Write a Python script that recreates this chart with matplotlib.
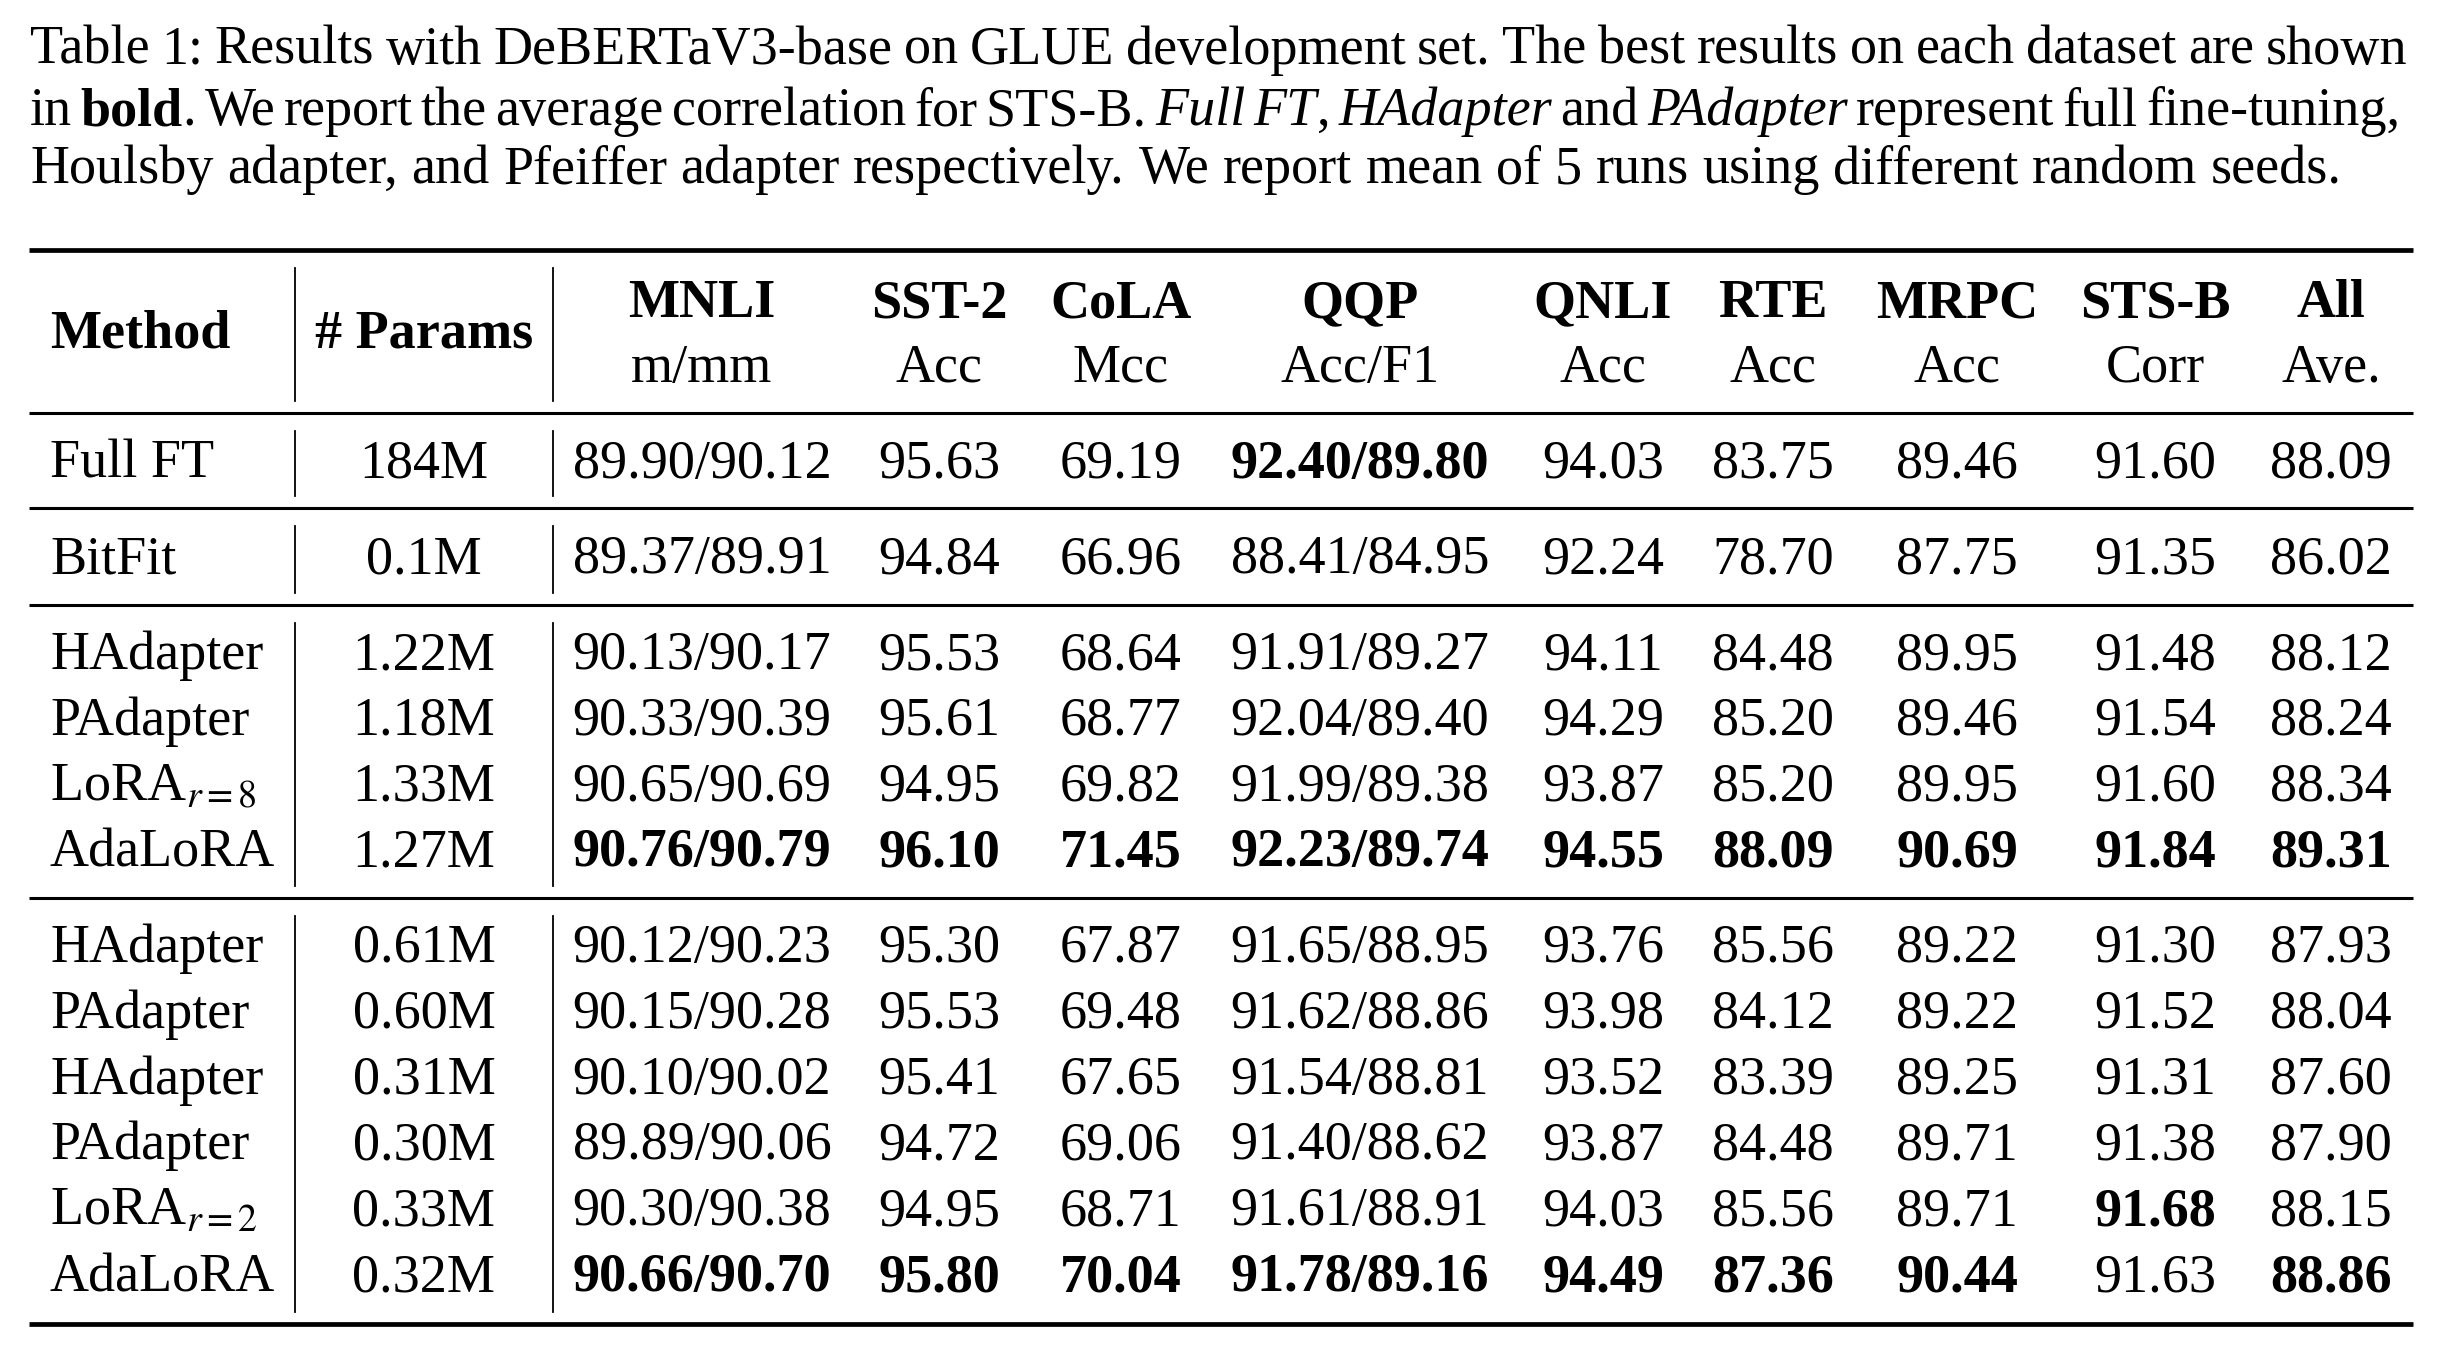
import matplotlib.pyplot as plt

plt.rcParams['font.family'] = 'Liberation Serif'
plt.rcParams['mathtext.fontset'] = 'stix'

# table content
datasets = ['MNLI', 'SST-2', 'CoLA', 'QQP', 'QNLI', 'RTE', 'MRPC', 'STS-B', 'All']
metrics = ['m/mm', 'Acc', 'Mcc', 'Acc/F1', 'Acc', 'Acc', 'Acc', 'Corr', 'Ave.']

methods = ['Full FT', 'BitFit',
           'HAdapter', 'PAdapter', 'LoRA$_{r=8}$', 'AdaLoRA',
           'HAdapter', 'PAdapter', 'HAdapter', 'PAdapter', 'LoRA$_{r=2}$', 'AdaLoRA']
params = ['184M', '0.1M', '1.22M', '1.18M', '1.33M', '1.27M',
          '0.61M', '0.60M', '0.31M', '0.30M', '0.33M', '0.32M']

scores = [
    ['89.90/90.12', '95.63', '69.19', '92.40/89.80', '94.03', '83.75', '89.46', '91.60', '88.09'],
    ['89.37/89.91', '94.84', '66.96', '88.41/84.95', '92.24', '78.70', '87.75', '91.35', '86.02'],
    ['90.13/90.17', '95.53', '68.64', '91.91/89.27', '94.11', '84.48', '89.95', '91.48', '88.12'],
    ['90.33/90.39', '95.61', '68.77', '92.04/89.40', '94.29', '85.20', '89.46', '91.54', '88.24'],
    ['90.65/90.69', '94.95', '69.82', '91.99/89.38', '93.87', '85.20', '89.95', '91.60', '88.34'],
    ['90.76/90.79', '96.10', '71.45', '92.23/89.74', '94.55', '88.09', '90.69', '91.84', '89.31'],
    ['90.12/90.23', '95.30', '67.87', '91.65/88.95', '93.76', '85.56', '89.22', '91.30', '87.93'],
    ['90.15/90.28', '95.53', '69.48', '91.62/88.86', '93.98', '84.12', '89.22', '91.52', '88.04'],
    ['90.10/90.02', '95.41', '67.65', '91.54/88.81', '93.52', '83.39', '89.25', '91.31', '87.60'],
    ['89.89/90.06', '94.72', '69.06', '91.40/88.62', '93.87', '84.48', '89.71', '91.38', '87.90'],
    ['90.30/90.38', '94.95', '68.71', '91.61/88.91', '94.03', '85.56', '89.71', '91.68', '88.15'],
    ['90.66/90.70', '95.80', '70.04', '91.78/89.16', '94.49', '87.36', '90.44', '91.63', '88.86'],
]

bold_cells = {(0, 3)}
bold_cells |= {(5, c) for c in range(9)}
bold_cells |= {(11, c) for c in [0, 1, 2, 3, 4, 5, 6, 8]}
bold_cells |= {(10, 7)}

groups = [[0], [1], [2, 3, 4, 5], [6, 7, 8, 9, 10, 11]]

caption = [
    [('Table 1: Results with DeBERTaV3-base on GLUE development set. The best results on each dataset are shown', 'r')],
    [('in ', 'r'), ('bold', 'b'), ('. We report the average correlation for STS-B. ', 'r'), ('Full FT', 'i'),
     (', ', 'r'), ('HAdapter', 'i'), (' and ', 'r'), ('PAdapter', 'i'), (' represent full fine-tuning,', 'r')],
    [('Houlsby adapter, and Pfeiffer adapter respectively. We report mean of 5 runs using different random seeds.', 'r')],
]

# layout (pixels)
W, H = 2454, 1348
fig = plt.figure(figsize=(W / 100, H / 100), dpi=100)
ax = fig.add_axes([0, 0, 1, 1])
ax.set_xlim(0, W)
ax.set_ylim(H, 0)
ax.axis('off')
renderer = fig.canvas.get_renderer()

fs = 39
cap_fs = 39
x_left, x_right = 29, 2413
x_method = 50
x_params = 424
col_x = [702, 939, 1121, 1360, 1603, 1773, 1957, 2155, 2331]
vlines_x = [295, 553]
rules = [250, 413, 508, 605, 898, 1324]
thick = [True, False, False, False, False, True]
block_first = [478, 573, 669, 962]
pitch = 65.8

styles = {'r': dict(), 'b': dict(fontweight='bold'), 'i': dict(fontstyle='italic')}


def words_of(segs):
    words = [[]]
    for text, st in segs:
        parts = text.split(' ')
        for i, p in enumerate(parts):
            if i > 0:
                words.append([])
            if p:
                words[-1].append((p, st))
    return [w for w in words if w]


def draw_line(segs, y, x0, x1=None, size=cap_fs):
    words = words_of(segs)
    arts = []
    widths = []
    for w in words:
        pieces = []
        tot = 0
        for txt, st in w:
            t = ax.text(0, y, txt, fontsize=size, va='baseline', ha='left', **styles[st])
            bw = t.get_window_extent(renderer).width
            pieces.append((t, bw))
            tot += bw
        arts.append(pieces)
        widths.append(tot)
    if x1 is None:
        gap = size * 100 / 72 * 0.25
    else:
        gap = (x1 - x0 - sum(widths)) / (len(words) - 1)
    x = x0
    for pieces, wd in zip(arts, widths):
        xx = x
        for t, bw in pieces:
            t.set_x(xx)
            xx += bw
        x += wd + gap


cap_base = [64, 125, 183]
draw_line(caption[0], cap_base[0], 30, 2407)
draw_line(caption[1], cap_base[1], 30, 2400)
draw_line(caption[2], cap_base[2], 30)

# horizontal rules
for y, tk in zip(rules, thick):
    ax.plot([x_left, x_right], [y, y], color='black', lw=3.4 if tk else 2.2,
            solid_capstyle='butt')

# vertical separators per block
for top, bot in zip(rules[:-1], rules[1:]):
    for vx in vlines_x:
        ax.plot([vx, vx], [top + 18, bot - 12], color='black', lw=1.3)

# header
ax.text(x_method, 348, 'Method', fontsize=fs, fontweight='bold', va='baseline', ha='left')
ax.text(x_params, 348, '# Params', fontsize=fs, fontweight='bold', va='baseline', ha='center')
for cx, d, m in zip(col_x, datasets, metrics):
    ax.text(cx, 317, d, fontsize=fs, fontweight='bold', va='baseline', ha='center')
    ax.text(cx, 382, m, fontsize=fs, va='baseline', ha='center')

# body
for g, y0 in zip(groups, block_first):
    for k, r in enumerate(g):
        y = y0 + k * pitch
        ax.text(x_method, y, methods[r], fontsize=fs, va='baseline', ha='left')
        ax.text(x_params, y, params[r], fontsize=fs, va='baseline', ha='center')
        for c, cx in enumerate(col_x):
            wt = 'bold' if (r, c) in bold_cells else 'normal'
            ax.text(cx, y, scores[r][c], fontsize=fs, fontweight=wt, va='baseline', ha='center')

fig.savefig('out.png', dpi=100, facecolor='white')
